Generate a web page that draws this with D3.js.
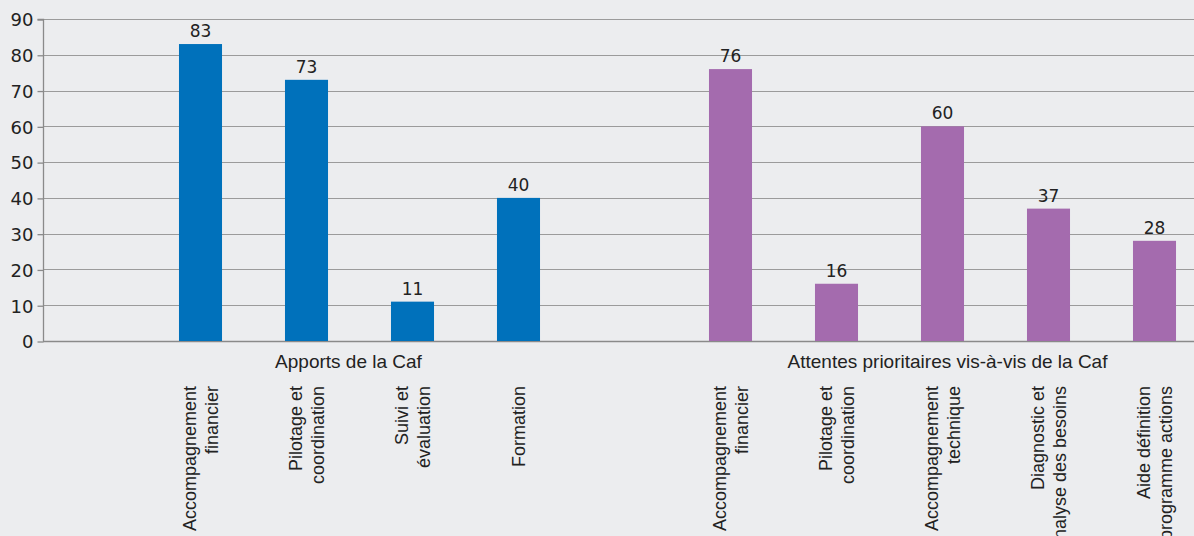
<!DOCTYPE html>
<html><head><meta charset="utf-8">
<script src="https://cdn.jsdelivr.net/npm/d3@7"></script>
<style>
html,body{margin:0;padding:0;background:#ecedef;overflow:hidden}
svg{display:block}
</style></head>
<body>
<script>
// ---- data ----
const titleText = "Apports perçus et attentes prioritaires des partenaires vis-à-vis de la Caf (en %)";
const groups = ["Apports de la Caf", "Attentes prioritaires vis-à-vis de la Caf"];
const apportsLabels = [["Accompagnement","financier"],["Pilotage et","coordination"],["Suivi et","évaluation"],["Formation"]];
const apportsValues = [83, 73, 11, 40];
const attentesLabels = [["Accompagnement","financier"],["Pilotage et","coordination"],["Accompagnement","technique"],["Diagnostic et","analyse des besoins"],["Aide définition","programme actions"]];
const attentesValues = [76, 16, 60, 37, 28];
const yTicks = [0,10,20,30,40,50,60,70,80,90];
const colors = ["#0071bb", "#a46bae"];

// ---- layout ----
const W = 1194, H = 536;
const x0 = 43, y0 = 341, yTop = 19;

// slots: blank, 4 apports, blank, 5 attentes
const slots = [];
slots.push({key:"b0", blank:true});
apportsLabels.forEach((l,i)=>slots.push({key:"a"+i, label:l, value:apportsValues[i], g:0}));
slots.push({key:"b1", blank:true});
attentesLabels.forEach((l,i)=>slots.push({key:"t"+i, label:l, value:attentesValues[i], g:1}));

const svg = d3.select("body").append("svg").attr("width",W).attr("height",H);

const x = d3.scaleBand().domain(slots.map(d=>d.key)).range([41.5, 41.5+106*11]).paddingInner(0.594).paddingOuter(0.297);
const y = d3.scaleLinear().domain([0,90]).range([y0, yTop]);

// title (cut off at top, only descenders visible as in the reference)
svg.append("text").attr("x", 640).attr("y", -4.5).attr("text-anchor","middle")
  .attr("font-family","Liberation Sans, Arial, sans-serif").attr("font-weight","bold")
  .attr("font-size",20).attr("fill","#1d70c2").text(titleText);

// gridlines
svg.append("g").selectAll("line").data(yTicks.filter(t=>t>0)).join("line")
  .attr("x1",x0).attr("x2",W).attr("y1",d=>Math.round(y(d))+0.5).attr("y2",d=>Math.round(y(d))+0.5)
  .attr("stroke","#9b9b9b").attr("stroke-width",1.2);

// y axis
const yAxis = svg.append("g").attr("transform",`translate(${x0+0.5},0.5)`)
  .call(d3.axisLeft(y).tickValues(yTicks).tickSize(6).tickPadding(4).tickFormat(d3.format("d")));
yAxis.select(".domain").attr("stroke","#8a8a8a").attr("stroke-width",1.3).attr("d",`M-6,${Math.round(y(90))}H0V${Math.round(y(0))}`);
yAxis.selectAll(".tick line").attr("stroke","#8a8a8a").attr("stroke-width",1.3);
yAxis.selectAll(".tick text").attr("font-family","DejaVu Sans, Verdana, sans-serif").attr("font-size",18).attr("fill","#222").attr("dy","0.35em");

// x baseline
svg.append("line").attr("x1",x0).attr("x2",W).attr("y1",y0+0.5).attr("y2",y0+0.5)
  .attr("stroke","#8a8a8a").attr("stroke-width",1.3);

const data = slots.filter(d=>!d.blank);

// bars
svg.append("g").selectAll("rect").data(data).join("rect")
  .attr("x",d=>x(d.key)).attr("width",x.bandwidth())
  .attr("y",d=>y(d.value)).attr("height",d=>y0-y(d.value))
  .attr("fill",d=>colors[d.g]);

// value labels
svg.append("g").selectAll("text").data(data).join("text")
  .attr("x",d=>x(d.key)+x.bandwidth()/2).attr("y",d=>y(d.value)-7)
  .attr("text-anchor","middle").attr("font-family","DejaVu Sans, Verdana, sans-serif")
  .attr("font-size",17).attr("fill","#222").text(d=>d.value);

// group labels
const groupOffsets = [-11, 5];
groups.forEach((g,gi)=>{
  const ds = data.filter(d=>d.g===gi);
  const cx = (x(ds[0].key) + x(ds[ds.length-1].key) + x.bandwidth())/2 + groupOffsets[gi];
  svg.append("text").attr("x",cx).attr("y",368).attr("text-anchor","middle")
    .attr("font-family","Liberation Sans, Arial, sans-serif").attr("font-size",19).attr("fill","#222").text(g);
});

// rotated category labels
const cat = svg.append("g").selectAll("g").data(data).join("g")
  .attr("transform",d=>`translate(${x(d.key)+x.bandwidth()/2},386) rotate(-90)`);
cat.each(function(d){
  const n = d.label.length;
  const t = d3.select(this).append("text").attr("text-anchor","end")
    .attr("font-family","Liberation Sans, Arial, sans-serif").attr("font-size",18).attr("fill","#222");
  d.label.forEach((line,i)=>{
    t.append("tspan").attr("x",0).attr("y",(i-(n-1)/2)*22).attr("dy","0.35em").text(line);
  });
});
</script>
</body></html>
